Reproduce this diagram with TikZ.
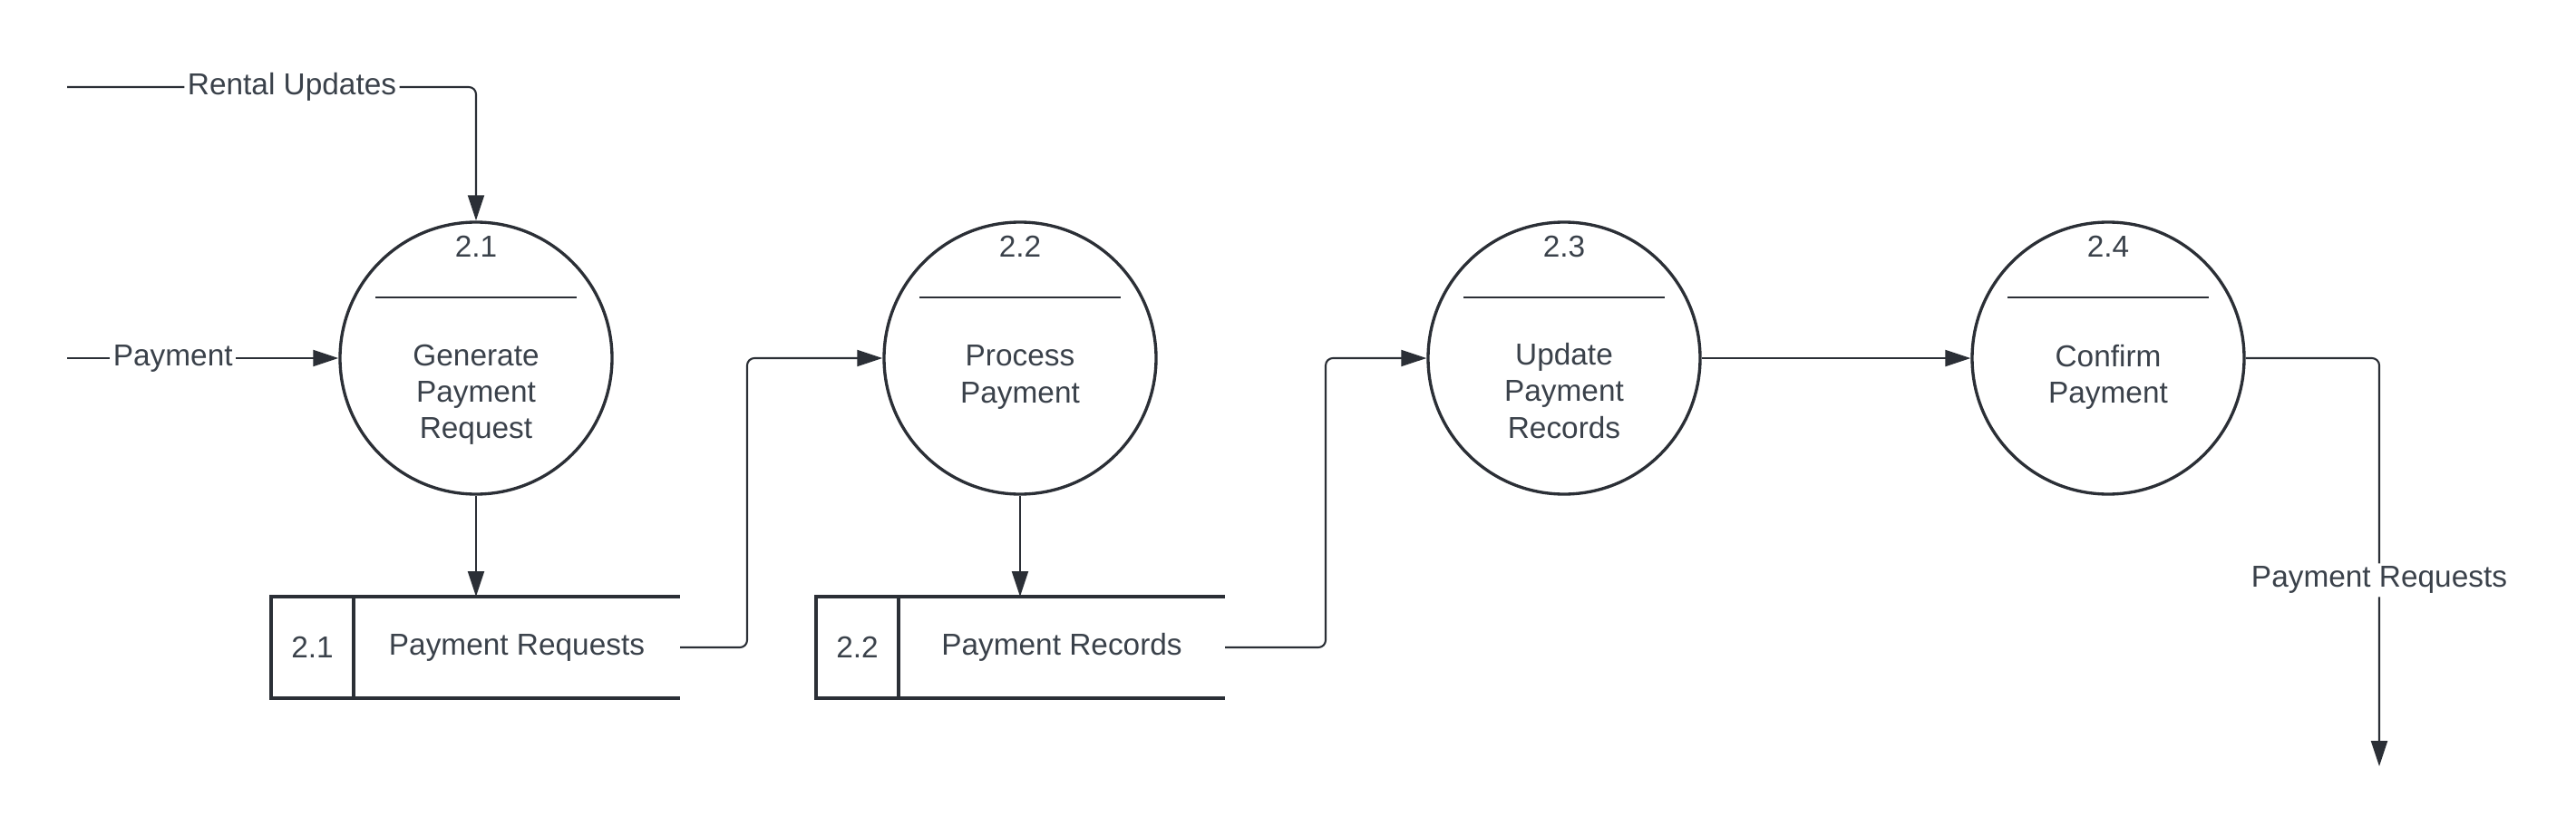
\documentclass[tikz,border=0pt]{standalone}
\usepackage{fontspec}
\setmainfont{Liberation Sans}
\usetikzlibrary{arrows.meta}

\definecolor{ink}{HTML}{2B2F36}
\definecolor{txt}{HTML}{3A414A}

\begin{document}
\begin{tikzpicture}[
        font=\fontsize{9.5}{11.4}\selectfont, text=txt,
        proc/.style={circle, draw=ink, line width=0.95pt, minimum size=3cm, inner sep=0pt},
        flow/.style={draw=ink, line width=0.6pt, -{Triangle[length=2.8mm, width=1.8mm]}},
        flowlabel/.style={fill=white, inner sep=1pt},
        storeid/.style={draw=ink, line width=1pt, minimum width=0.91cm, minimum height=1.12cm, inner sep=0pt, outer sep=0pt},
        storename/.style={minimum width=3.6cm, minimum height=1.12cm, inner sep=0pt, outer sep=0pt}
    ]
        \useasboundingbox (0, 0) rectangle (28.41, -9.21);

        % processes
        \node[proc] (p1) at (5.25, -3.95) {};
        \node[proc] (p2) at (11.25, -3.95) {};
        \node[proc] (p3) at (17.25, -3.95) {};
        \node[proc] (p4) at (23.25, -3.95) {};

        \foreach \p/\num in {p1/2.1, p2/2.2, p3/2.3, p4/2.4} {
            \node at ([yshift=1.23cm]\p.center) {\num};
            \draw[ink, line width=0.65pt] ([xshift=-1.11cm, yshift=0.67cm]\p.center) -- ++(2.22, 0);
        }

        \node[align=center] (t1) at ([yshift=-0.40cm]p1.center) {Generate\\Payment\\Request};
        \node[align=center] (t2) at ([yshift=-0.21cm]p2.center) {Process\\Payment};
        \node[align=center] (t3) at ([yshift=-0.36cm]p3.center) {Update\\Payment\\Records};
        \node[align=center] (t4) at ([yshift=-0.21cm]p4.center) {Confirm\\Payment};

        % data stores
        \node[storeid] (d1id) at (3.445, -7.14) {2.1};
        \node[storename, anchor=west] (d1) at (d1id.east) {Payment Requests};
        \node[storeid] (d2id) at (9.455, -7.14) {2.2};
        \node[storename, anchor=west] (d2) at (d2id.east) {Payment Records};

        \begin{scope}[ink, line width=1pt]
            \draw (d1id.north east) -- (d1.north east);
            \draw (d1id.south east) -- (d1.south east);
            \draw (d2id.north east) -- (d2.north east);
            \draw (d2id.south east) -- (d2.south east);
        \end{scope}

        % flows
        \coordinate (rin) at (0.74, -0.96);
        \coordinate (pin) at (0.74, -3.95);
        \coordinate (b1) at (8.24, -3.95);
        \coordinate (b2) at (14.62, -3.95);
        \coordinate (out) at (26.24, -8.45);

        \draw[flow, rounded corners=0.08cm] (rin) -| (p1.north)
            node[flowlabel, pos=0.275] {Rental Updates};
        \draw[flow] (pin) -- (p1.west)
            node[flowlabel, pos=0.39] {Payment};
        \draw[flow] (p1.south) -- (p1.south |- d1.north);
        \draw[flow] (p2.south) -- (p2.south |- d2.north);
        \draw[flow, rounded corners=0.08cm] (d1.east) -| (b1) -- (p2.west);
        \draw[flow, rounded corners=0.08cm] (d2.east) -| (b2) -- (p3.west);
        \draw[flow] (p3.east) -- (p4.west);
        \draw[flow, rounded corners=0.08cm] (p4.east) -| (out)
            node[flowlabel, pos=0.772] {Payment Requests};
    \end{tikzpicture}
\end{document}
